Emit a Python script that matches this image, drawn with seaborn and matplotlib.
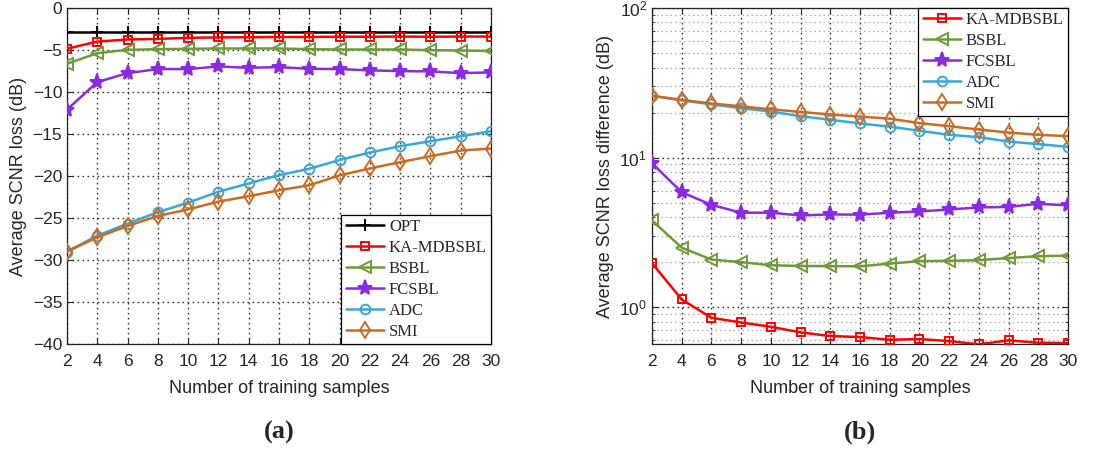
import numpy as np
import pandas as pd
import matplotlib
matplotlib.use("Agg")
import matplotlib.pyplot as plt
import seaborn as sns
from matplotlib.ticker import LogLocator, NullFormatter

samples = [2, 4, 6, 8, 10, 12, 14, 16, 18, 20, 22, 24, 26, 28, 30]

# (a) Average SCNR loss (dB)
opt_a = [-2.9] * 15
ka_a = [-4.85, -4.0, -3.75, -3.68, -3.55, -3.5, -3.48, -3.45, -3.45, -3.42, -3.42, -3.4, -3.42, -3.4, -3.4]
bsbl_a = [-6.64, -5.38, -4.98, -4.9, -4.86, -4.82, -4.82, -4.82, -4.9, -4.94, -4.94, -4.94, -5.02, -5.06, -5.12]
fcsbl_a = [-12.1, -8.82, -7.75, -7.27, -7.27, -6.96, -7.12, -7.04, -7.24, -7.27, -7.43, -7.51, -7.55, -7.75, -7.67]
adc_a = [-29.0, -27.1, -25.67, -24.3, -23.18, -21.87, -20.88, -19.9, -19.14, -18.1, -17.2, -16.45, -15.86, -15.27, -14.67]
smi_a = [-29.0, -27.3, -25.95, -24.76, -23.97, -23.05, -22.4, -21.7, -21.1, -19.93, -19.1, -18.35, -17.64, -16.97, -16.73]

# (b) Average SCNR loss difference (dB)
ka_b = [1.97, 1.125, 0.849, 0.79, 0.739, 0.678, 0.641, 0.631, 0.605, 0.612, 0.593, 0.564, 0.6, 0.578, 0.576]
bsbl_b = [3.8, 2.5, 2.08, 2.0, 1.905, 1.885, 1.88, 1.875, 1.955, 2.03, 2.04, 2.06, 2.13, 2.19, 2.21]
fcsbl_b = [9.16, 5.87, 4.83, 4.28, 4.28, 4.1, 4.17, 4.15, 4.28, 4.36, 4.5, 4.64, 4.68, 4.91, 4.79]
adc_b = [25.9, 24.1, 22.7, 21.4, 20.3, 18.9, 17.9, 16.9, 16.1, 15.1, 14.2, 13.7, 12.8, 12.3, 11.8]
smi_b = [25.9, 24.3, 23.0, 22.0, 21.0, 20.2, 19.4, 18.8, 18.2, 17.0, 16.2, 15.4, 14.7, 14.2, 13.9]

sns.set_style("ticks")
plt.rcParams["font.family"] = ["Liberation Sans", "DejaVu Sans"]
plt.rcParams["mathtext.fontset"] = "custom"
plt.rcParams["mathtext.rm"] = "Liberation Sans"
plt.rcParams["mathtext.it"] = "Liberation Sans"

styles = {
    "OPT": dict(color="#000000", marker="+", ms=8, mfc="#000000"),
    "KA-MDBSBL": dict(color="#FF0000", marker="s", ms=6, mfc="none"),
    "BSBL": dict(color="#6E9A38", marker="<", ms=8, mfc="none"),
    "FCSBL": dict(color="#8A2BE2", marker="*", ms=11, mfc="#8A2BE2"),
    "ADC": dict(color="#3AA7D6", marker="o", ms=7, mfc="none"),
    "SMI": dict(color="#CC6A1F", marker="d", ms=8, mfc="none"),
}

fig = plt.figure(figsize=(11.07, 4.53), dpi=100)
ax1 = fig.add_axes([67 / 1107, 1 - 344 / 453, (491 - 67) / 1107, (344 - 8) / 453])
ax2 = fig.add_axes([652 / 1107, 1 - 344 / 453, (1068 - 652) / 1107, (344 - 8) / 453])

def draw(ax, name, vals):
    s = styles[name]
    sns.lineplot(x=samples, y=vals, ax=ax, color=s["color"], marker=s["marker"],
                 markersize=s["ms"], markerfacecolor=s["mfc"], markeredgecolor=s["color"],
                 markeredgewidth=1.4, linewidth=1.8, label=name, zorder=3)

for name, vals in [("OPT", opt_a), ("KA-MDBSBL", ka_a), ("BSBL", bsbl_a),
                   ("FCSBL", fcsbl_a), ("ADC", adc_a), ("SMI", smi_a)]:
    draw(ax1, name, vals)
for name, vals in [("KA-MDBSBL", ka_b), ("BSBL", bsbl_b), ("FCSBL", fcsbl_b),
                   ("ADC", adc_b), ("SMI", smi_b)]:
    draw(ax2, name, vals)

ax1.set_ylim(-40, 0)
ax1.set_yticks(np.arange(-40, 1, 5))
ax1.set_ylabel("Average SCNR loss (dB)", fontsize=13, labelpad=4)

ax2.set_yscale("log")
ax2.set_ylim(0.567, 100)
ax2.yaxis.set_major_locator(LogLocator(base=10, numticks=10))
ax2.yaxis.set_minor_locator(LogLocator(base=10, subs=np.arange(2, 10), numticks=20))
ax2.yaxis.set_minor_formatter(NullFormatter())
ax2.set_ylabel("Average SCNR loss difference (dB)", fontsize=13, labelpad=4)

legfont = dict(family=["Liberation Serif"], size=12)
for ax, loc in [(ax1, "lower right"), (ax2, "upper right")]:
    ax.set_xlim(2, 30)
    ax.set_xticks(samples)
    for sp in ax.spines.values():
        sp.set_linewidth(0.9)
        sp.set_color("#222222")
    ax.set_xlabel("Number of training samples", fontsize=13, labelpad=8)
    leg = ax.legend(loc=loc, prop=legfont, frameon=True, fancybox=False, edgecolor="black",
                    framealpha=1, borderaxespad=0, handlelength=2.3, handletextpad=0.3,
                    labelspacing=0.3, borderpad=0.25)
    leg.get_frame().set_linewidth(0.9)
    leg.set_zorder(5)
    ax.set_axisbelow(True)
    ax.grid(True, which="major", axis="both", linestyle=(0, (1.2, 2.4)), color="#333333", linewidth=1.0)
    ax.tick_params(which="major", direction="in", top=True, right=True, labelsize=12.5,
                   length=4, width=0.8)
    ax.tick_params(axis="x", pad=7)

ax2.grid(True, which="minor", axis="y", linestyle=(0, (1.2, 2.4)), color="#aaaaaa", linewidth=0.9)
ax2.tick_params(axis="y", which="minor", direction="in", left=True, right=True, length=2)

fig.text((67 + 491) / 2 / 1107, 1 - 432 / 453, "(a)", ha="center", va="center",
         fontsize=19, fontweight="bold", family=["Liberation Serif"])
fig.text((652 + 1068) / 2 / 1107, 1 - 432 / 453, "(b)", ha="center", va="center",
         fontsize=19, fontweight="bold", family=["Liberation Serif"])

fig.savefig("out.png", dpi=100)
